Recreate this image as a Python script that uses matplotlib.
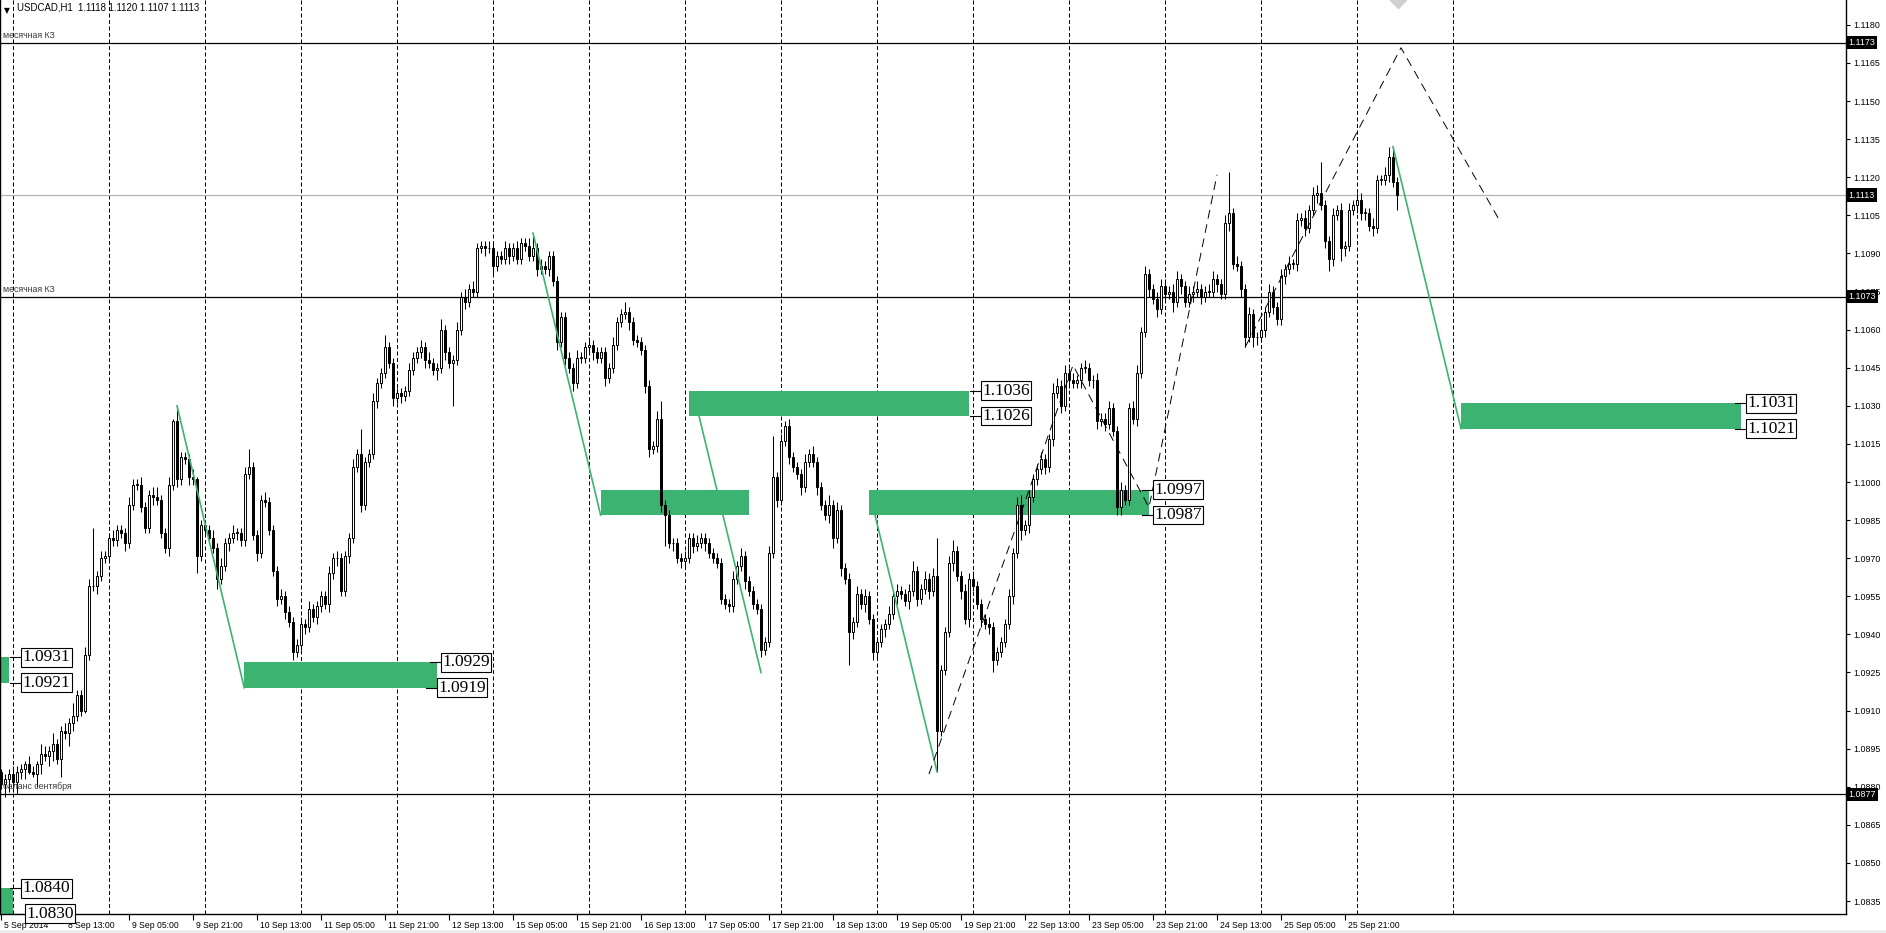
import matplotlib
matplotlib.use("Agg")
import matplotlib.pyplot as plt
from matplotlib.patches import Rectangle
from matplotlib import transforms

# USDCAD H1, 5 Sep 2014 21:00 .. 26 Sep 09:00, prices in points (1.0000 = 10000)
first_open = 10886
closes = [
    10881, 10883, 10885, 10882, 10886, 10887, 10889, 10886, 10885, 10889,
    10893, 10892, 10894, 10897, 10891, 10902, 10901, 10905, 10908, 10916,
    10910, 10932, 10959, 10959, 10963, 10970, 10971, 10978, 10977, 10981,
    10980, 10976, 10991, 10999, 10999, 10990, 10982, 10995, 10994, 10993,
    10980, 10974, 10999, 11024, 11001, 11010, 11009, 11002, 11001, 10971,
    10983, 10981, 10978, 10974, 10962, 10967, 10976, 10978, 10980, 10980,
    10977, 11003, 11006, 10979, 10972, 10993, 10992, 10981, 10965, 10954,
    10955, 10949, 10945, 10933, 10936, 10944, 10943, 10950, 10947, 10951,
    10955, 10952, 10964, 10970, 10970, 10957, 10971, 10978, 11006, 11011,
    10991, 11008, 11011, 11032, 11039, 11043, 11053, 11047, 11033, 11035,
    11034, 11036, 11044, 11049, 11051, 11053, 11048, 11047, 11044, 11045,
    11060, 11051, 11047, 11048, 11060, 11073, 11071, 11076, 11075, 11092,
    11093, 11092, 11092, 11085, 11089, 11088, 11092, 11089, 11092, 11088,
    11094, 11093, 11089, 11092, 11084, 11085, 11084, 11089, 11079, 11055,
    11065, 11049, 11045, 11039, 11049, 11049, 11053, 11054, 11051, 11049,
    11051, 11041, 11045, 11054, 11063, 11066, 11067, 11063, 11056, 11055,
    11052, 11038, 11013, 11014, 11025, 10991, 10987, 10976, 10976, 10970,
    10969, 10970, 10978, 10975, 10976, 10978, 10976, 10972, 10970, 10968,
    10954, 10952, 10951, 10962, 10967, 10971, 10961, 10957, 10952, 10950,
    10934, 10937, 10972, 11002, 10993, 11016, 11022, 11010, 11006, 11003,
    10998, 11008, 11011, 11008, 10998, 10991, 10987, 10991, 10978, 10989,
    10966, 10962, 10941, 10945, 10956, 10952, 10955, 10946, 10933, 10937,
    10942, 10944, 10948, 10955, 10957, 10956, 10953, 10957, 10965, 10954,
    10958, 10962, 10957, 10963, 10902, 10926, 10941, 10968, 10973, 10963,
    10957, 10946, 10962, 10959, 10952, 10946, 10944, 10943, 10930, 10933,
    10937, 10944, 10955, 10972, 10991, 10981, 10983, 10994, 11001, 11005,
    11009, 11006, 11017, 11035, 11038, 11030, 11043, 11040, 11039, 11040,
    11045, 11045, 11040, 11040, 11024, 11025, 11023, 11029, 11020, 10990,
    10997, 10993, 11029, 11025, 11043, 11059, 11082, 11076, 11072, 11068,
    11077, 11074, 11075, 11071, 11080, 11077, 11071, 11074, 11075, 11076,
    11073, 11075, 11075, 11080, 11078, 11074, 11102, 11106, 11086, 11085,
    11076, 11057, 11066, 11057, 11057, 11060, 11067, 11075, 11069, 11064,
    11081, 11084, 11086, 11086, 11103, 11104, 11100, 11107, 11113, 11114,
    11109, 11095, 11088, 11105, 11107, 11092, 11093, 11107, 11109, 11111,
    11106, 11106, 11101, 11100, 11119, 11119, 11121, 11128, 11118, 11113,
]
wick_up = [
    1, 2, 2, 3, 2, 2, 1, 3, 2, 1,  4, 3, 2, 4, 2, 2, 3, 2, 5, 2,
    2, 3, 3, 23, 2, 3, 2, 2, 3, 2,  2, 2, 3, 2, 2, 3, 2, 2, 3, 4,
    2, 2, 3, 1, 6, 2, 2, 2, 3, 1,  2, 2, 2, 3, 2, 3, 2, 2, 3, 2,
    2, 3, 7, 2, 2, 2, 3, 2, 2, 2,  3, 2, 2, 2, 2, 3, 2, 3, 2, 2,
    2, 2, 3, 2, 3, 2, 2, 2, 3, 2,  10, 2, 2, 3, 2, 2, 5, 2, 2, 2,
    2, 2, 3, 2, 2, 3, 2, 3, 2, 2,  4, 2, 2, 2, 3, 2, 3, 2, 3, 2,
    2, 2, 3, 2, 2, 2, 3, 2, 2, 3,  2, 2, 3, 6, 2, 3, 2, 2, 2, 2,
    2, 2, 2, 2, 3, 2, 2, 3, 2, 2,  2, 2, 2, 3, 2, 2, 4, 2, 2, 2,
    2, 2, 2, 2, 3, 7, 2, 2, 2, 2,  2, 3, 2, 2, 3, 2, 2, 2, 2, 2,
    2, 2, 2, 3, 2, 3, 2, 2, 2, 2,  2, 2, 3, 16, 2, 3, 2, 3, 2, 2,
    2, 3, 2, 3, 2, 2, 2, 4, 2, 3,  2, 2, 2, 2, 3, 2, 3, 2, 2, 2,
    2, 2, 3, 2, 3, 2, 2, 3, 4, 2,  2, 3, 2, 3, 15, 2, 2, 3, 4, 2,
    2, 3, 2, 3, 2, 2, 2, 3, 2, 2,  2, 2, 3, 2, 3, 4, 2, 3, 2, 2,
    3, 2, 2, 4, 3, 2, 3, 2, 3, 2,  2, 3, 2, 2, 3, 2, 2, 3, 2, 2,
    3, 2, 2, 3, 3, 2, 3, 2, 2, 3,  3, 3, 2, 3, 3, 2, 2, 3, 2, 3,
    2, 2, 3, 3, 2, 2, 3, 16, 2, 3,  2, 2, 3, 2, 2, 3, 2, 3, 2, 2,
    3, 2, 3, 2, 3, 2, 3, 2, 3, 3,  12, 2, 2, 3, 2, 3, 2, 3, 2, 3,
    3, 2, 2, 3, 2, 2, 3, 4, 4, 2,
]
wick_dn = [
    2, 5, 5, 4, 5, 3, 4, 1, 1, 5,  4, 2, 4, 4, 2, 7, 2, 5, 3, 2,
    2, 1, 2, 2, 3, 2, 2, 2, 2, 2,  2, 3, 2, 2, 2, 2, 2, 2, 3, 2,
    2, 2, 3, 2, 3, 2, 2, 3, 2, 7,  2, 2, 2, 2, 4, 2, 2, 3, 2, 3,
    2, 2, 2, 2, 3, 2, 2, 2, 2, 3,  2, 3, 2, 3, 2, 2, 3, 2, 2, 3,
    2, 2, 3, 2, 3, 2, 2, 3, 2, 2,  3, 2, 2, 2, 3, 2, 2, 2, 3, 2,
    3, 2, 2, 2, 2, 2, 3, 2, 2, 4,  2, 3, 2, 17, 2, 2, 3, 2, 2, 2,
    2, 3, 2, 3, 2, 2, 2, 3, 2, 2,  2, 2, 2, 2, 3, 2, 2, 3, 2, 3,
    2, 3, 2, 3, 2, 2, 2, 2, 3, 2,  2, 3, 2, 2, 2, 2, 2, 3, 2, 2,
    2, 3, 3, 2, 2, 3, 12, 2, 3, 2,  3, 2, 2, 3, 2, 2, 3, 2, 2, 2,
    2, 2, 2, 2, 2, 2, 3, 2, 2, 2,  3, 2, 2, 2, 3, 2, 2, 3, 2, 2,
    3, 2, 2, 2, 3, 2, 2, 3, 4, 2,  3, 2, 13, 3, 2, 2, 3, 2, 3, 2,
    2, 3, 2, 2, 3, 2, 2, 3, 2, 3,  2, 2, 3, 2, 16, 2, 2, 2, 3, 2,
    3, 2, 3, 2, 2, 3, 2, 3, 5, 2,  2, 2, 2, 3, 2, 4, 2, 3, 2, 2,
    2, 3, 2, 3, 2, 3, 2, 3, 2, 2,  3, 2, 2, 3, 3, 2, 3, 2, 2, 3,
    3, 2, 2, 2, 3, 2, 2, 3, 2, 3,  2, 3, 2, 4, 2, 3, 2, 2, 3, 2,
    3, 2, 2, 2, 3, 2, 2, 3, 2, 2,  3, 4, 2, 4, 3, 2, 3, 2, 3, 2,
    2, 3, 2, 2, 3, 2, 3, 2, 2, 3,  2, 3, 5, 3, 2, 5, 3, 2, 2, 3,
    3, 3, 2, 3, 2, 2, 2, 3, 2, 6,
]

time_labels = ["5 Sep 2014", "8 Sep 13:00", "9 Sep 05:00", "9 Sep 21:00", "10 Sep 13:00",
               "11 Sep 05:00", "11 Sep 21:00", "12 Sep 13:00", "15 Sep 05:00", "15 Sep 21:00",
               "16 Sep 13:00", "17 Sep 05:00", "17 Sep 21:00", "18 Sep 13:00", "19 Sep 05:00",
               "19 Sep 21:00", "22 Sep 13:00", "23 Sep 05:00", "23 Sep 21:00", "24 Sep 13:00",
               "25 Sep 05:00", "25 Sep 21:00"]

# horizontal levels
levels = [1.1173, 1.1113, 1.1073, 1.0877]
level_names = ["месячная КЗ", "", "месячная КЗ", "баланс сентября"]

# green zones (bar index from/to, price low/high)
zone_t0 = [-1, 60.75, 149.9, 171.9, 217.0, 365.0, -1]
zone_t1 = [2.0, 108.9, 187.0, 242.0, 287.0, 435.0, 2.9]
zone_lo = [1.0921, 1.0919, 1.0987, 1.1026, 1.0987, 1.1021, 1.0830]
zone_hi = [1.0931, 1.0929, 1.0997, 1.1036, 1.0997, 1.1031, 1.0840]
tag_x_hi = [4.9, 109.75, None, 244.75, 287.75, 436.0, 4.9]
tag_x_lo = [4.9, 108.75, None, 244.75, 287.75, 436.0, 5.75]

# green projection lines
green_x = [(44, 60.8), (133, 149.9), (174.5, 190), (218.5, 234), (348, 365)]
green_y = [(1.1030, 1.0919), (1.1098, 1.0987), (1.1026, 1.0925), (1.0987, 1.0886), (1.1132, 1.1021)]

# dashed zigzags
zig1_x = [232, 268, 287, 304]
zig1_y = [1.0885, 1.1046, 1.0990, 1.1121]
zig2_x = [311, 350, 375]
zig2_y = [1.1053, 1.1171, 1.1102]

W, H = 1886, 933
fig = plt.figure(figsize=(W / 100, H / 100), dpi=100)
ax = fig.add_axes([0, 19 / H, 1846 / W, 914 / H])
fig.patches.append(Rectangle((0, 0), 1, 3 / H, transform=fig.transFigure,
                             facecolor="#ececec", edgecolor="none", zorder=-1))

green = "#3CB371"
ymin, ymax = 1.08299, 1.11898
ax.set_xlim(-0.25, 461.25)
ax.set_ylim(ymin, ymax)

# candles
n = len(closes)
opens = [first_open] + closes[:-1]
for i in range(n):
    o = opens[i] / 10000
    c = closes[i] / 10000
    hi = max(o, c) + wick_up[i] / 10000
    lo = min(o, c) - wick_dn[i] / 10000
    ax.plot([i, i], [lo, hi], color="black", lw=0.75, zorder=3, solid_capstyle="butt")
    bh = max(abs(c - o), 0.000015)
    ax.add_patch(Rectangle((i - 0.28, min(o, c)), 0.56, bh,
                           facecolor="white" if c >= o else "black",
                           edgecolor="black", lw=0.7, zorder=4))

# day separators
for k in range(16):
    ax.axvline(3 + 24 * k, color="black", lw=0.72, ls=(0, (4, 2.5)), zorder=1)

# zones
for t0, t1, lo, hi in zip(zone_t0, zone_t1, zone_lo, zone_hi):
    ax.add_patch(Rectangle((t0, lo), t1 - t0, hi - lo, facecolor=green,
                           edgecolor="none", zorder=2))

for xs, ps in [(tag_x_hi, zone_hi), (tag_x_lo, zone_lo)]:
    for x, p in zip(xs, ps):
        if x is None:
            continue
        ax.plot([x - 2.6, x], [p, p], color="black", lw=0.8, zorder=6)
        ax.text(x + 0.55, p, f"{p:.4f}", fontsize=12.5, family="Liberation Serif",
                ha="left", va="center", zorder=7,
                bbox=dict(boxstyle="square,pad=0.08", facecolor="white",
                          edgecolor="black", lw=0.8))

for xs, ys in zip(green_x, green_y):
    ax.plot(xs, ys, color=green, lw=1.2, zorder=5)

ax.plot(zig1_x, zig1_y, color="black", lw=0.7, ls=(0, (9, 6)), zorder=5)
ax.plot(zig2_x, zig2_y, color="black", lw=0.7, ls=(0, (9, 6)), zorder=5)

# levels
blend = transforms.blended_transform_factory(ax.transAxes, ax.transData)
for p, name in zip(levels, level_names):
    col = "black" if name else "#b4b4b4"
    ax.axhline(p, color=col, lw=0.9, zorder=2.5)
    if name:
        ax.text(0.0015, p + 0.00012, name, transform=blend, fontsize=6.3,
                family="Liberation Sans", color="#3a3a3a", ha="left", va="bottom", zorder=6)
    ax.text(1.0012, p, f"{p:.4f}", transform=blend, fontsize=6.4, family="Liberation Sans",
            color="white", ha="left", va="center", zorder=8, clip_on=False,
            bbox=dict(boxstyle="square,pad=0.25", facecolor="black", edgecolor="none"))

# small grey marker at top
ax.plot([349.25], [ymax], marker="D", ms=8, color="#cfcfcf", zorder=6, clip_on=True)

# title
ax.text(0.0022, 0.9935, "▼", transform=ax.transAxes, fontsize=5.5, ha="left", va="top")
ax.text(0.009, 0.997, "USDCAD,H1  1.1118 1.1120 1.1107 1.1113", transform=ax.transAxes,
        fontsize=6.9, family="Liberation Sans", ha="left", va="top")

# axes styling
ax.spines["top"].set_visible(False)
for s in ["left", "right", "bottom"]:
    ax.spines[s].set_linewidth(1.0)
ax.yaxis.tick_right()
yt = [1.0835 + 0.0015 * k for k in range(24)]
ax.set_yticks(yt)
ax.set_yticklabels([f"{v:.4f}" for v in yt], fontsize=6.4, family="Liberation Sans")
ax.tick_params(axis="y", direction="out", length=3, width=0.8, pad=2)

xt = [16 * k for k in range(len(time_labels))]
ax.set_xticks(xt)
ax.set_xticklabels(time_labels, fontsize=6.2, family="Liberation Sans", ha="left")
ax.tick_params(axis="x", direction="out", length=4, width=0.8, pad=1)
off = transforms.ScaledTranslation(3 / 100, 0, fig.dpi_scale_trans)
for lab in ax.get_xticklabels():
    lab.set_transform(lab.get_transform() + off)

fig.savefig("out.png", dpi=100)
